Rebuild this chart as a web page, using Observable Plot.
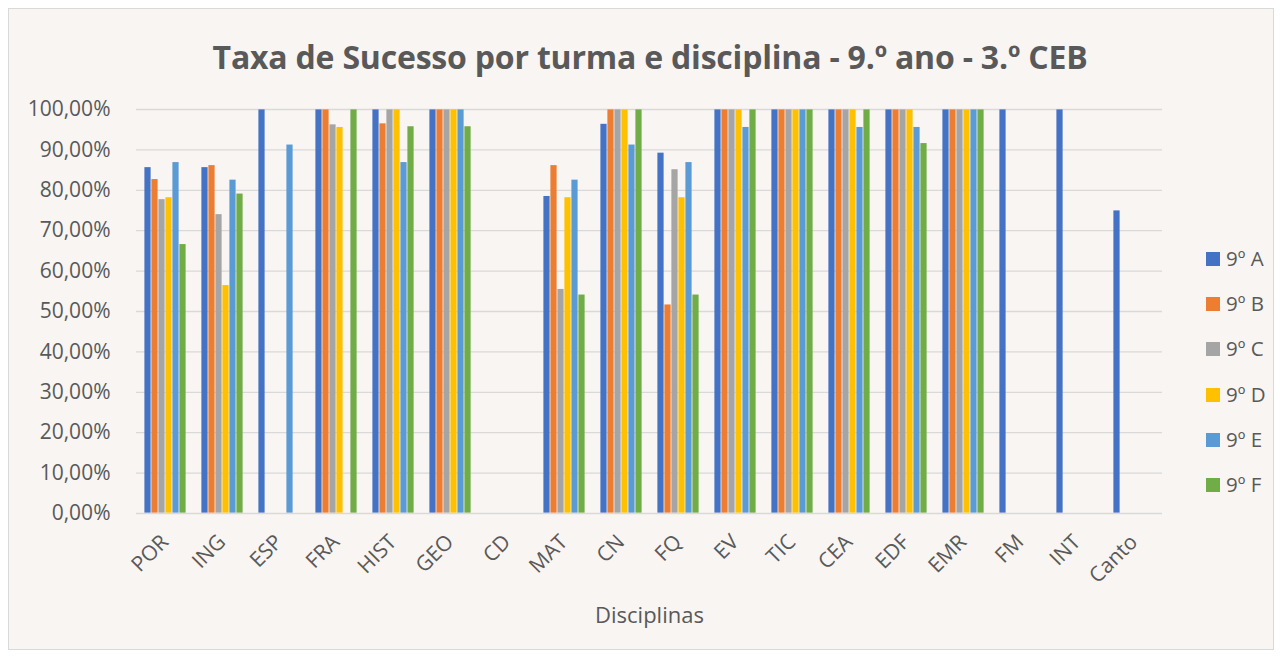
<!DOCTYPE html>
<html>
<head>
<meta charset="utf-8">
<script src="https://cdn.jsdelivr.net/npm/d3@7"></script>
<script src="https://cdn.jsdelivr.net/npm/@observablehq/plot@0.6"></script>
<style>
  html, body { margin: 0; padding: 0; background: #ffffff; }
  body { width: 1282px; height: 657px; position: relative; overflow: hidden; font-family: "Open Sans", sans-serif; }
  #frame { position: absolute; left: 8px; top: 8px; width: 1264px; height: 640px; background: #f8f5f2; border: 1px solid #d9d9d9; }
  #title { position: absolute; left: 0; width: 1300px; top: 35px; text-align: center; font-size: 32px; font-weight: bold; color: #595959; letter-spacing: -0.2px; }
  #chart { position: absolute; left: 0; top: 0; }
  #legend { position: absolute; left: 1206px; top: 244px; }
  .item { height: 45.2px; display: flex; align-items: flex-start; font-size: 20.5px; color: #595959; }
  .sw { width: 14px; height: 14px; margin-top: 8px; margin-right: 6px; }
</style>
</head>
<body>
<div id="frame"></div>
<div id="title">Taxa de Sucesso por turma e disciplina - 9.º ano - 3.º CEB</div>
<div id="chart"></div>
<div id="legend"></div>
<script>
const disciplinas = ["POR","ING","ESP","FRA","HIST","GEO","CD","MAT","CN","FQ","EV","TIC","CEA","EDF","EMR","FM","INT","Canto"];
const turmas = ["9º A","9º B","9º C","9º D","9º E","9º F"];
const cores = ["#4472C4","#ED7D31","#A5A5A5","#FFC000","#5B9BD5","#70AD47"];
const turmaA = [85.71, 85.71, 100, 100, 100, 100, null, 78.57, 96.43, 89.29, 100, 100, 100, 100, 100, 100, 100, 75.00];
const turmaB = [82.76, 86.21, null, 100, 96.55, 100, null, 86.21, 100, 51.72, 100, 100, 100, 100, 100, null, null, null];
const turmaC = [77.78, 74.07, null, 96.30, 100, 100, null, 55.56, 100, 85.19, 100, 100, 100, 100, 100, null, null, null];
const turmaD = [78.26, 56.52, null, 95.65, 100, 100, null, 78.26, 100, 78.26, 100, 100, 100, 100, 100, null, null, null];
const turmaE = [86.96, 82.61, 91.30, null, 86.96, 100, null, 82.61, 91.30, 86.96, 95.65, 100, 95.65, 95.65, 100, null, null, null];
const turmaF = [66.67, 79.17, null, 100, 95.83, 95.83, null, 54.17, 100, 54.17, 100, 100, 100, 91.67, 100, null, null, null];
const yTicks = [0,10,20,30,40,50,60,70,80,90,100];

const series = [turmaA, turmaB, turmaC, turmaD, turmaE, turmaF];
const data = [];
disciplinas.forEach((d, i) => {
  series.forEach((s, j) => {
    if (s[i] != null) data.push({disciplina: d, turma: turmas[j], valor: s[i]});
  });
});
const grid = disciplinas.flatMap(d => yTicks.map(t => ({disciplina: d, t})));

const fmt = v => v.toFixed(2).replace(".", ",") + "%";

const chart = Plot.plot({
  width: 1282,
  height: 657,
  marginTop: 109,
  marginBottom: 144,
  marginLeft: 131,
  marginRight: 116,
  style: {background: "transparent", color: "#595959", fontFamily: "Open Sans, sans-serif", fontSize: "18px"},
  fx: {domain: disciplinas, padding: 0},
  x: {domain: turmas, axis: null, paddingInner: 0, paddingOuter: 0.78},
  y: {domain: [0, 100], label: null},
  color: {domain: turmas, range: cores},
  marks: [
    Plot.ruleY(grid, {fx: "disciplina", y: "t", stroke: "#d9d9d9", strokeWidth: 1.3}),
    Plot.barY(data, {fx: "disciplina", x: "turma", y: "valor", fill: "turma", inset: 0.4}),
    Plot.axisY({ticks: yTicks, tickFormat: fmt, tickSize: 0, tickPadding: 26, fontSize: 21, label: null}),
    Plot.axisFx({anchor: "bottom", tickRotate: -45, tickSize: 0, tickPadding: 25, fontSize: 21, label: null}),
    Plot.axisFx({anchor: "bottom", tickFormat: () => "", tickSize: 0, fontSize: 22, label: "Disciplinas", labelAnchor: "center", labelOffset: 109})
  ]
});
document.getElementById("chart").appendChild(chart);

const legend = document.getElementById("legend");
turmas.forEach((t, i) => {
  const it = document.createElement("div");
  it.className = "item";
  it.innerHTML = `<div class="sw" style="background:${cores[i]}"></div><span>${t}</span>`;
  legend.appendChild(it);
});
</script>
</body>
</html>
